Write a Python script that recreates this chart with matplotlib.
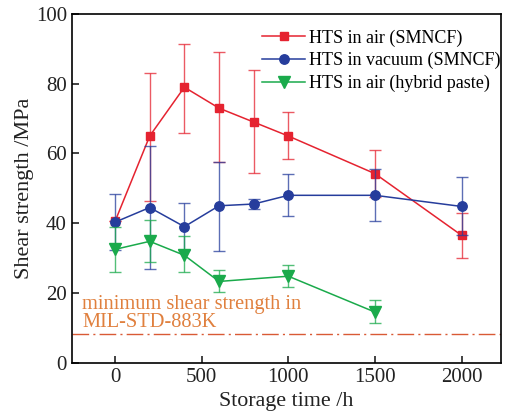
import matplotlib
matplotlib.use("Agg")
import matplotlib.pyplot as plt

# storage time (h) and shear strength (MPa)
t_air = [0, 200, 400, 600, 800, 1000, 1500, 2000]
air_mean = [40.5, 65, 79, 73, 69, 65, 54.2, 36.5]
air_lo = [40.5, 46.5, 66, 57.5, 54.5, 58.5, 47.5, 30]
air_hi = [40.5, 83, 91.5, 89, 84, 72, 61, 43]

t_vac = [0, 200, 400, 600, 800, 1000, 1500, 2000]
vac_mean = [40.3, 44.5, 39, 45, 45.5, 48, 48, 44.8]
vac_lo = [32.3, 27, 32.3, 32.1, 44, 42, 40.7, 36.5]
vac_hi = [48.3, 62, 45.9, 57.5, 47, 54, 55.5, 53.2]

t_hyb = [0, 200, 400, 600, 1000, 1500]
hyb_mean = [32.5, 34.8, 30.8, 23.3, 24.8, 14.5]
hyb_lo = [25.9, 29, 26.1, 20.2, 21.6, 11.5]
hyb_hi = [39, 40.9, 36.2, 26.6, 28, 18]

mil_limit = 8.1

RED = "#E52330"
BLUE = "#263D9C"
GREEN = "#1AAA4B"
ORANGE = "#E0803E"
LIMIT = "#D95A35"

plt.rcParams["font.family"] = "Liberation Serif"

fig = plt.figure(figsize=(5.07, 4.19), dpi=100)
ax = fig.add_axes([0.1414, 0.1344, 0.8462, 0.8322])


def err(mean, lo, hi):
    return [[m - l for m, l in zip(mean, lo)], [h - m for m, h in zip(mean, hi)]]


series = [
    (t_air, air_mean, air_lo, air_hi, RED, "s", "HTS in air (SMNCF)", 6),
    (t_vac, vac_mean, vac_lo, vac_hi, BLUE, "o", "HTS in vacuum (SMNCF)", 6.8),
    (t_hyb, hyb_mean, hyb_lo, hyb_hi, GREEN, "v", "HTS in air (hybrid paste)", 8),
]
for t, m, lo, hi, c, mk, lab, ms in series:
    ax.errorbar(t, m, yerr=err(m, lo, hi), fmt="none", ecolor=c, alpha=0.75,
                elinewidth=1, capsize=4, capthick=1)
    ax.plot(t, m, color=c, marker=mk, markersize=ms, linewidth=1.1, label=lab)

ax.axhline(mil_limit, color=LIMIT, linewidth=1, linestyle=(0, (12, 3, 1.5, 3)))
ax.text(-188, 8.7, "minimum shear strength in\nMIL-STD-883K", color=ORANGE,
        fontsize=14.7, va="bottom", ha="left", linespacing=0.95)

ax.set_xlim(-250, 2225)
ax.set_ylim(0, 100)
ax.set_xticks([0, 500, 1000, 1500, 2000])
ax.set_yticks([0, 20, 40, 60, 80, 100])
ax.tick_params(direction="in", length=5, width=1.2, labelsize=15, colors="#222222")
for s in ax.spines.values():
    s.set_linewidth(1.2)
ax.set_xlabel("Storage time /h", fontsize=15.8, color="#222222", labelpad=4)
ax.set_ylabel("Shear strength /MPa", fontsize=16, color="#222222", labelpad=1)

ax.legend(loc="upper right", bbox_to_anchor=(1.0, 0.956), frameon=False,
          fontsize=13, handlelength=2.4, handletextpad=0.22, labelspacing=0.3,
          borderaxespad=0.0, borderpad=0.0)

fig.savefig("out.png", dpi=100)
